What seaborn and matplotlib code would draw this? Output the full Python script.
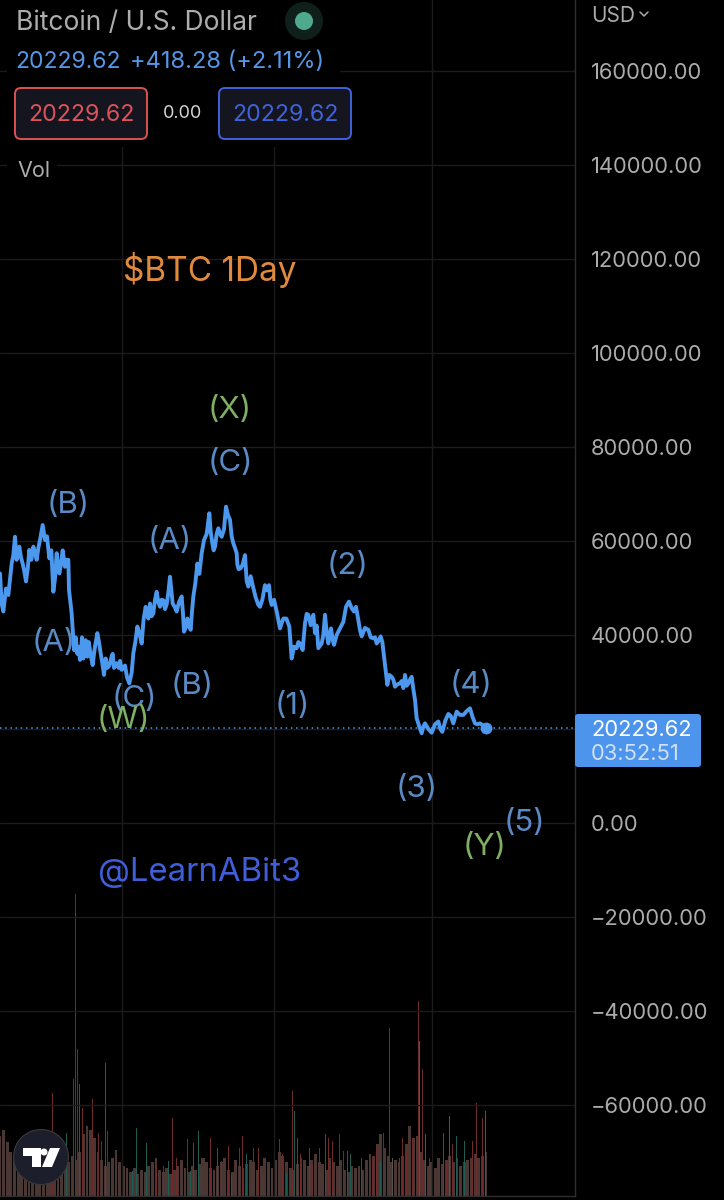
import numpy as np
import pandas as pd
import matplotlib
matplotlib.use("Agg")
import matplotlib.pyplot as plt
from matplotlib.patches import Circle, FancyBboxPatch, Polygon, Rectangle
import seaborn as sns

# ---- data -------------------------------------------------------------
session = [0,5,10,18,25,35,45,50,58,68,78,88,100,110,120,128,135,148,160,170,178,188,195,205,207,215,222,227,232,240,
           246,250,257,262,270,278,285,292,302,312,317,322,335,342,350,365,375,388,400,412,425,437,445,450,460,470,480,490,
           500,510,518,530,545,552,562,572,580,592,605,612,628,637,645,655,665,678,690,700,710,716,722,735,745,760,775,
           780,795,807,815,822,840,850,868,875,890,900,908,915,925,932,940,945,955,965,975,985,993,1002,1020,1030,1047,1055,
           1068,1075,1085,1105,1120,1130,1142,1152,1162,1175,1185,1200,1210,1215,1225,1235,1245,1250,1265,1275,1295,1315,
           1327,1345,1360,1370,1390,1410,1425,1440,1458]
price_k = [53.1,46.7,45.0,49.9,48.5,55.2,60.9,56.0,58.8,55.2,51.4,58.1,58.8,56.0,60.2,63.4,60.2,56.3,49.2,57.4,53.1,58.0,54.5,56.0,49.6,44.6,36.8,39.5,36.0,34.7,
           39.5,35.0,38.9,35.4,36.8,33.6,37.5,40.4,36.1,31.5,35.0,33.0,35.4,33.0,34.0,32.6,33.5,29.7,36.1,41.8,38.2,46.0,43.5,46.7,44.6,49.2,46.0,47.4,
           46.5,52.4,46.7,45.0,48.2,40.7,43.5,41.1,48.2,55.2,57.4,60.2,65.9,59.5,58.8,62.7,60.9,67.3,64.5,59.5,57.4,54.0,54.2,57.0,50.3,50.0,46.4,
           46.0,50.6,50.6,46.4,47.5,41.4,43.5,41.8,35.0,37.2,38.2,36.8,42.5,44.3,42.1,44.3,40.4,37.2,38.2,44.3,38.2,41.4,37.9,41.4,42.8,47.1,45.7,
           46.0,43.2,39.7,41.1,39.3,38.2,39.7,35.4,29.4,31.1,29.0,29.7,28.7,31.5,29.7,31.1,26.2,22.3,19.1,21.2,19.2,21.6,
           19.4,23.2,21.2,23.7,23.0,24.4,21.2,21.2,20.23]
# finer wiggles of the price line
wiggle_session = [14,40,63,73,83,94,105,115,141,154,165,174,183,200,236,243,266,274,282,297,307,328,338,356,360,381,395,406,418,431,441,455,465,475,485,495,505,524,537,549,557,567,576,586,598,
                  620,632,641,650,660,672,684,695,705,712,728,740,752,767,787,801,811,830,845,859,882,895,920,950,970,980,989,998,1010,1038,1062,1080,1095,1112,1125,1136,1147,1168,1180,1192,1205,1220,1230,1240,1258,1270,1285,1305,1321,1336,1352,1380,1400,1418,1432]
wiggle_price = [47.5,57.0,56.5,53.5,54.0,56.0,57.5,58.5,61.0,58.0,52.0,55.0,55.0,56.0,37.5,36.5,38.5,35.0,36.0,38.5,34.0,33.5,36.0,33.0,34.5,31.0,32.0,38.5,40.5,43.5,44.5,44.0,47.5,47.0,47.5,45.5,49.0,46.0,47.0,44.5,41.5,42.0,45.0,51.0,53.0,
                61.5,62.0,58.0,61.5,61.5,62.5,65.5,61.0,58.5,55.0,55.0,51.5,52.5,48.0,47.5,49.5,47.5,45.0,42.5,43.5,37.5,38.5,44.5,42.0,40.0,40.5,40.0,39.0,40.0,46.0,45.0,41.0,41.5,39.5,39.5,38.8,38.5,31.5,30.5,29.5,30.2,29.2,30.5,28.5,20.5,20.5,20.0,21.0,20.0,21.8,22.8,23.0,23.8,22.5,21.0]
last_price = 20229.62

vol_x = [0,9,18,27,36,45,54,63,72,81,90,99,144,157,200,210,220,226,232,238,248,258,268,278,288,296,305,316,322,333,345,357,367,378,390,398,405,410,420,432,
         440,450,460,470,480,490,505,518,530,540,552,562,572,580,595,605,618,632,642,652,665,685,695,705,718,728,740,750,760,775,
         780,795,810,825,838,848,860,877,884,892,902,912,928,938,948,958,966,976,986,998,1008,1018,1030,1042,1052,1062,1074,1084,1098,1110,1118,1130,1142,1150,
         1158,1168,1177,1188,1198,1208,1220,1230,1238,1248,1255,1258,1267,1277,1288,1298,1308,1317,1331,1340,1348,1358,1370,1380,1393,1407,1417,1429,1437,1447,1457]
vol_top = [175,92,68,65,48,72,78,58,48,70,62,52,107,103,63,113,117,302,147,112,88,50,52,97,52,63,55,133,65,45,28,40,28,28,47,25,105,68,28,67,
           53,33,32,32,32,30,35,78,38,28,70,57,25,53,65,38,63,58,28,48,35,50,22,65,48,60,42,93,48,48,
           42,35,52,42,57,42,22,105,85,58,42,52,48,32,42,48,100,62,58,55,35,62,45,45,42,42,55,38,25,32,38,48,35,63,
           125,168,38,65,38,58,45,55,58,115,195,155,127,62,38,73,35,58,63,35,80,52,60,45,55,58,55,93,52,78,85]
vol_dir = ['d','d','u','d','u','d','d','u','d','d','u','d','d','d','u','u','d','d','d','u','d','u','d','d','u','d','d','u','d','d','u','d','d','d','d','u','u','u','d','u',
           'u','d','d','d','u','d','u','d','d','u','d','d','u','u','u','d','u','d','d','u','d','d','u','d','d','d','u','d','d','d',
           'd','u','u','d','d','d','u','d','u','u','d','d','u','d','d','d','u','u','d','d','u','d','d','u','u','u','d','u','d','u','d','d','u','d',
           'g','d','g','d','d','d','d','g','d','g','d','g','d','g','d','d','d','u','u','d','g','d','u','d','u','d','d','d','d','d','g']
vol_floor = [60,66,54,44,38,30,42,50,38,32,36,44,34,30,36,42,36,30,28,34,40,36,44,62,70,66,58,44,36,30,34,38,46,34,30,28,24,28,22,26,
             24,30,34,38,26,24,28,22,26,30,36,28,24,30,26,32,38,34,28,26,30,34,38,26,24,36,30,28,32,36,
             34,26,30,38,34,28,36,44,40,34,28,26,32,38,36,30,36,42,34,32,26,38,34,30,36,26,24,30,28,30,26,36,42,40,
             52,62,48,40,34,36,34,40,52,70,58,60,44,36,30,34,28,38,32,36,40,34,38,30,34,36,38,42,38,40,44]
floor_x = list(np.linspace(0, 1458, len(vol_floor)))

ticks = [-60000,-40000,-20000,0,20000,40000,60000,80000,100000,120000,140000,160000]
year_marks = [366, 822, 1296]

labels_blue = [("(B)",68,505),("(A)",54,643),("(C)",134,699),("(A)",170,541),("(B)",192,686),("(C)",230,463),
               ("(1)",292,706),("(2)",348,566),("(3)",417,789),("(4)",471,685),("(5)",524,823)]
labels_green = [("(W)",123,720),("(X)",230,410),("(Y)",485,847)]

# ---- style ------------------------------------------------------------
sns.set_theme(style="dark", rc={"axes.facecolor":"#000000","figure.facecolor":"#000000"})
plt.rcParams["font.family"] = ["Inter","DejaVu Sans"]
GRID = "#1b1b1b"; AXC = "#2e2e2e"; TXT = "#ababab"; LINE = "#4b98ee"

fig = plt.figure(figsize=(7.24,12.0), dpi=100, facecolor="#000000")
ax = fig.add_axes([0, 4/1200, 575/724, 1196/1200])
vx = ax.twinx()
ax.set_zorder(2); vx.set_zorder(1); ax.patch.set_visible(False); vx.patch.set_facecolor("#000000")

# volume
pal = {"d":"#6f2a2c","u":"#1e5c54","g":"#55524f"}
vx.bar(floor_x, vol_floor, width=8.5, color="#4a3633", edgecolor="none", linewidth=0)
df_v = pd.DataFrame({"x":vol_x,"v":vol_top,"d":vol_dir})
sns.barplot(data=df_v, x="x", y="v", hue="d", palette=pal, native_scale=True, dodge=False,
            width=0.7, legend=False, ax=vx, edgecolor="none", linewidth=0, saturation=1)
vx.set_ylim(0,1196); vx.set_xlim(0,1725)
vx.set_yticks([]); vx.set_xlabel(""); vx.set_ylabel("")
for s in vx.spines.values(): s.set_visible(False)

# price
df = pd.DataFrame({"x":session+wiggle_session,"p":np.array(price_k+wiggle_price)*1000}).sort_values("x")
ax.set_xlim(0,1725); ax.set_ylim(-79361.7,175106.4)
ax.set_yticks(ticks)
ax.set_yticklabels([f"{t:.2f}".replace("-","\u2212") for t in [float(v) for v in ticks]],
                   color=TXT, fontsize=15.8)
ax.yaxis.tick_right()
ax.tick_params(axis="y", length=0, pad=11.5)
ax.set_xticks(year_marks); ax.set_xticklabels([])
ax.tick_params(axis="x", length=0)
ax.grid(True, color=GRID, lw=1.0); ax.set_axisbelow(True)
for k,s in ax.spines.items():
    s.set_visible(k in ("right","bottom")); s.set_color(AXC); s.set_linewidth(1.0)
ax.axhline(last_price, color=LINE, lw=1.1, ls=(0,(1,2.4)), zorder=2)
sns.lineplot(data=df, x="x", y="p", estimator=None, sort=False, color=LINE, lw=2.8, ax=ax, zorder=4,
             solid_joinstyle="round")
ax.plot(session[-1], last_price, "o", color=LINE, ms=7.5, zorder=5)
ax.set_xlabel(""); ax.set_ylabel("")

# ---- overlay in pixel space -------------------------------------------
ov = fig.add_axes([0,0,1,1], zorder=5); ov.set_xlim(0,724); ov.set_ylim(1200,0); ov.axis("off")
ov.add_patch(Rectangle((7,0),333,147,color="#000000",lw=0))
ov.add_patch(Rectangle((7,152),50,33,color="#000000",lw=0))
ov.text(16,23,"Bitcoin / U.S. Dollar",color="#adadad",fontsize=19,va="center")
ov.add_patch(Circle((304,21),19,color="#0e2019",lw=0))
ov.add_patch(Circle((304,21),9,color="#4fa98c",lw=0))
ov.text(15,62,"20229.62",color="#5596e6",fontsize=16.5,va="center")
ov.text(130,62,"+418.28 (+2.11%)",color="#5596e6",fontsize=17,va="center")
for x0,ec,tc in [(15,"#d9534f","#e0525a"),(219,"#3f62dd","#3f62dd")]:
    ov.add_patch(FancyBboxPatch((x0,88),132,51,boxstyle="round,pad=0,rounding_size=6",fc="#14151f",ec=ec,lw=1.4))
    ov.text(x0+66,115,"20229.62",color=tc,fontsize=16.7,ha="center",va="center")
ov.text(183,114,"0.00",color="#d5d5d5",fontsize=13,ha="center",va="center")
ov.text(17,171,"Vol",color="#adadad",fontsize=15.5,va="center")
ov.text(591,16,"USD",color=TXT,fontsize=15,va="center")
ov.plot([640,644,648],[12,16,12],color=TXT,lw=1.1)

ov.add_patch(FancyBboxPatch((575,714),126,53,boxstyle="round,pad=0,rounding_size=3",fc="#4d94ec",ec="none"))
ov.text(591,730,"20229.62",color="#ffffff",fontsize=15.8,va="center")
ov.text(591,754,"03:52:51",color="#cfe2f8",fontsize=15.8,va="center")

ov.text(210,270,"$BTC 1Day",color="#e08a3f",fontsize=24,ha="center",va="center")
ov.text(200,872,"@LearnABit3",color="#3f5ed8",fontsize=23.7,ha="center",va="center")
for t,x,y in labels_blue:
    ov.text(x,y,t,color="#5a8ac4",fontsize=22.5,ha="center",va="center")
for t,x,y in labels_green:
    ov.text(x,y,t,color="#7faf63",fontsize=22.5,ha="center",va="center")

# logo
ov.add_patch(Circle((41,1157),27.5,fc="#1c1f2b",ec="#3a3a3a",lw=0.8))
ov.add_patch(Polygon([(22.5,1148),(41,1148),(41,1167),(32,1167),(32,1156),(22.5,1156)],color="#ffffff",lw=0))
ov.add_patch(Circle((44,1152),3.5,color="#ffffff",lw=0))
ov.add_patch(Polygon([(50,1148),(60,1148),(52,1167),(42,1167)],color="#ffffff",lw=0))

fig.savefig("out.png", dpi=100, facecolor="#000000")
